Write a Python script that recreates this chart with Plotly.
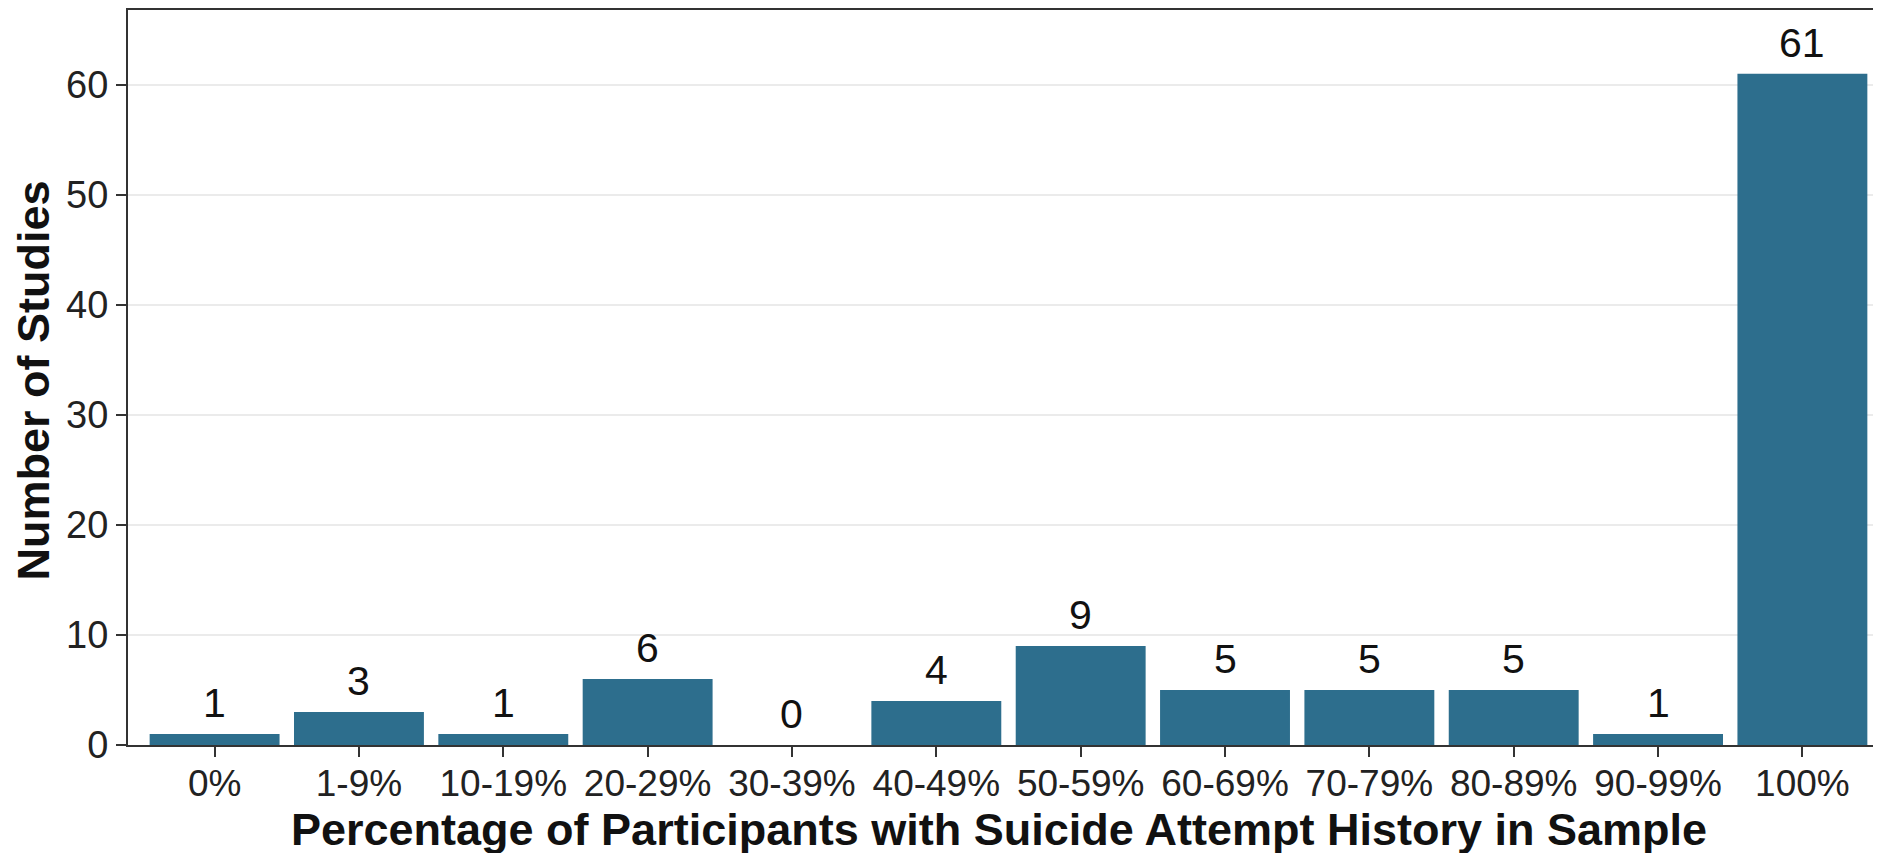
import plotly.graph_objects as go

categories = ["0%", "1-9%", "10-19%", "20-29%", "30-39%", "40-49%", "50-59%",
              "60-69%", "70-79%", "80-89%", "90-99%", "100%"]
counts = [1, 3, 1, 6, 0, 4, 9, 5, 5, 5, 1, 61]
y_ticks = [0, 10, 20, 30, 40, 50, 60]

x_title = "Percentage of Participants with Suicide Attempt History in Sample"
y_title = "Number of Studies"

bar_color = "#2D6E8D"
axis_color = "#333333"
font_family = "Liberation Sans, Arial, Helvetica, sans-serif"

fig = go.Figure()
fig.add_trace(go.Bar(
    x=categories,
    y=counts,
    marker=dict(color=bar_color, line=dict(width=0)),
    width=0.9,
    hoverinfo="x+y",
))

for cat, val in zip(categories, counts):
    fig.add_annotation(
        x=cat, y=val, text=str(val), showarrow=False,
        xanchor="center", yanchor="middle", yshift=31,
        font=dict(family=font_family, size=41, color="#111111"),
    )

# axis titles
fig.add_annotation(
    xref="paper", yref="paper", x=0.5, y=0,
    xanchor="center", yanchor="middle", yshift=-84, xshift=-10,
    text="<b>" + x_title + "</b>", showarrow=False,
    font=dict(family=font_family, size=45, color="#111111"),
)
fig.add_annotation(
    xref="paper", yref="paper", x=0, y=0.5,
    xanchor="center", yanchor="middle", xshift=-95, yshift=-3,
    textangle=-90,
    text="<b>" + y_title + "</b>", showarrow=False,
    font=dict(family=font_family, size=45, color="#111111"),
)

fig.update_layout(
    width=1881, height=853,
    margin=dict(l=120, r=0, t=2, b=116, autoexpand=False),
    paper_bgcolor="white",
    plot_bgcolor="white",
    showlegend=False,
    bargap=0.1,
    font=dict(family=font_family, color="#222222"),
)

fig.update_xaxes(
    type="category",
    categoryorder="array", categoryarray=categories,
    range=[-0.6, 11.6],
    automargin=False,
    showline=True, linecolor=axis_color, linewidth=2, mirror=True,
    ticks="outside", ticklen=10, tickwidth=2, tickcolor=axis_color,
    ticklabelstandoff=-5,
    tickfont=dict(family=font_family, size=37, color="#222222"),
    showgrid=False, zeroline=False,
)

fig.update_yaxes(
    range=[0, 66.8],
    tickvals=y_ticks,
    automargin=False,
    showline=True, linecolor=axis_color, linewidth=2, mirror=False,
    ticks="outside", ticklen=10, tickwidth=2, tickcolor=axis_color,
    tickfont=dict(family=font_family, size=38, color="#222222"),
    showgrid=True, gridcolor="#EBEBEB", gridwidth=2,
    zeroline=False,
)

fig.write_html("out.html")
